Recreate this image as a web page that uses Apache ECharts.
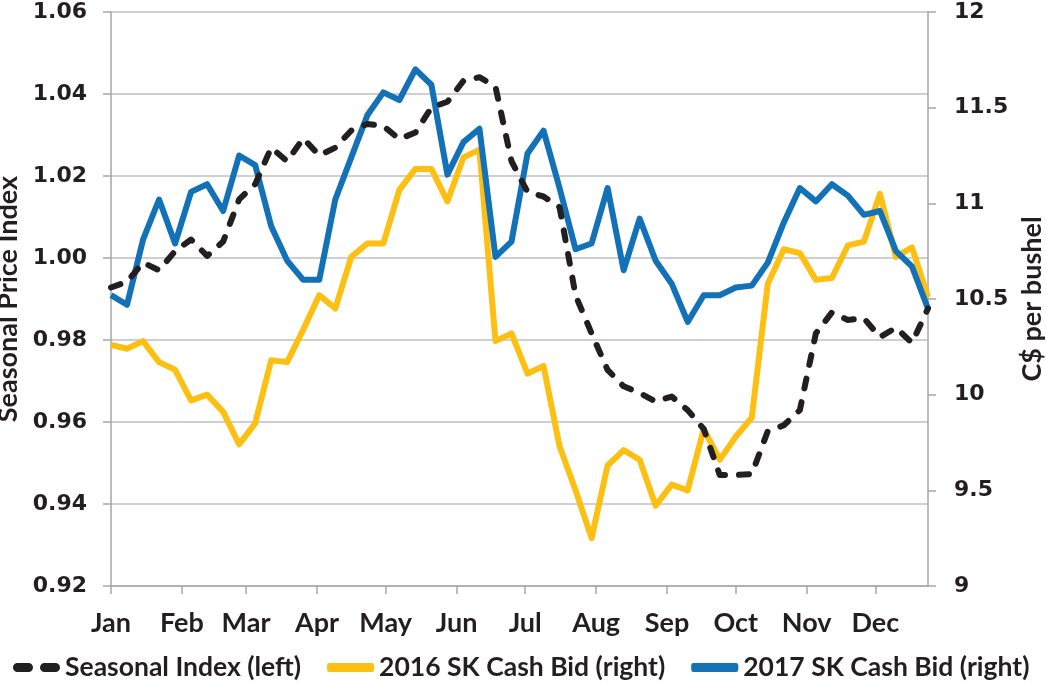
<!DOCTYPE html>
<html>
<head>
<meta charset="utf-8">
<script src="https://cdn.jsdelivr.net/npm/echarts@6/dist/echarts.min.js"></script>
<style>
html,body{margin:0;padding:0;background:#fff;}
#chart{width:1046px;height:694px;}
</style>
</head>
<body>
<div id="chart"></div>
<script>
// Weekly observations (week 1 .. week 52)
const weeks = Array.from({length: 52}, (_, i) => i + 1);
const monthNames = ['Jan','Feb','Mar','Apr','May','Jun','Jul','Aug','Sep','Oct','Nov','Dec'];
const monthStartDays = [0,31,59,90,120,151,181,212,243,273,304,334];
const leftTicks = [0.92,0.94,0.96,0.98,1.00,1.02,1.04,1.06];
const rightTicks = [9,9.5,10,10.5,11,11.5,12];

const seasonalIndex = [
  0.9928,0.9942,0.9989,0.9970,1.0017,1.0045,1.0005,1.0040,1.0143,1.0180,
  1.0269,1.0236,1.0292,1.0250,1.0269,1.0311,1.0327,1.0322,1.0290,1.0306,
  1.0367,1.0381,1.0432,1.0441,1.0418,1.0236,1.0161,1.0150,1.0124,0.9909,
  0.9816,0.9727,0.9687,0.9671,0.9650,0.9662,0.9629,0.9583,0.9471,0.9471,
  0.9473,0.9578,0.9592,0.9629,0.9816,0.9867,0.9849,0.9853,0.9807,0.9830,
  0.9793,0.9877
];
const bid2016 = [
  10.26,10.24,10.28,10.17,10.13,9.97,10.00,9.91,9.74,9.85,
  10.18,10.17,10.34,10.52,10.45,10.72,10.79,10.79,11.07,11.18,
  11.18,11.01,11.24,11.28,10.28,10.32,10.11,10.15,9.73,9.50,
  9.25,9.63,9.71,9.66,9.42,9.53,9.50,9.82,9.66,9.78,
  9.88,10.58,10.76,10.74,10.60,10.61,10.78,10.80,11.05,10.72,
  10.77,10.51
];
const bid2017 = [
  10.52,10.47,10.81,11.02,10.79,11.06,11.10,10.96,11.25,11.20,
  10.88,10.70,10.60,10.60,11.02,11.24,11.46,11.58,11.54,11.70,
  11.62,11.15,11.32,11.39,10.72,10.80,11.26,11.38,11.08,10.76,
  10.79,11.08,10.65,10.92,10.70,10.58,10.38,10.52,10.52,10.56,
  10.57,10.69,10.90,11.08,11.01,11.10,11.04,10.94,10.96,10.75,
  10.67,10.45
];

const dayOf = w => (w - 1) * 7;
const pair = arr => weeks.map((w, i) => [dayOf(w), arr[i]]);

const TXT = '#231f20';
const HUM = 'Lato, "Open Sans", sans-serif';
const NUM = '"DejaVu Sans", sans-serif';
const dashIcon = 'path://M4.5,0H15.5A4.5,4.5,0,0,1,15.5,9H4.5A4.5,4.5,0,0,1,4.5,0ZM31.5,0H42.5A4.5,4.5,0,0,1,42.5,9H31.5A4.5,4.5,0,0,1,31.5,0Z';

const chart = echarts.init(document.getElementById('chart'), null, {renderer: 'canvas'});
chart.setOption({
  animation: false,
  backgroundColor: '#fff',
  grid: {left: 111, right: 118, top: 12, bottom: 108, containLabel: false, outerBoundsMode: 'none'},
  legend: {
    data: [
      {name: 'Seasonal Index (left)', icon: dashIcon},
      {name: '2016 SK Cash Bid (right)', icon: 'roundRect'},
      {name: '2017 SK Cash Bid (right)', icon: 'roundRect'}
    ],
    left: 13, top: 654, width: 1100, padding: 0,
    itemWidth: 47, itemHeight: 9, itemGap: 26,
    textStyle: {fontFamily: HUM, fontWeight: 'bold', fontSize: 26.5, color: TXT}
  },
  xAxis: {
    type: 'value',
    min: 0, max: dayOf(weeks[weeks.length - 1]),
    splitLine: {show: false},
    axisLine: {show: true, lineStyle: {color: '#a6a6a6', width: 1.5}},
    axisTick: {show: true, length: 8, lineStyle: {color: '#a6a6a6', width: 1.5}, customValues: monthStartDays},
    axisLabel: {
      customValues: monthStartDays,
      formatter: v => monthNames[monthStartDays.indexOf(v)],
      margin: 24,
      fontFamily: HUM, fontWeight: 'bold', fontSize: 27, color: TXT
    }
  },
  yAxis: [
    {
      type: 'value', position: 'left',
      min: leftTicks[0], max: leftTicks[leftTicks.length - 1], interval: 0.02,
      name: 'Seasonal Price Index', nameLocation: 'middle', nameRotate: 90, nameGap: 86,
      nameTextStyle: {fontFamily: HUM, fontWeight: 'bold', fontSize: 27, color: TXT},
      axisLine: {show: true, lineStyle: {color: '#a6a6a6', width: 1.5}},
      axisTick: {show: true, length: 8, lineStyle: {color: '#a6a6a6', width: 1.5}},
      splitLine: {show: true, lineStyle: {color: '#bfbfbf', width: 1.5}},
      axisLabel: {formatter: v => v.toFixed(2), margin: 24, fontFamily: NUM, fontWeight: 'bold', fontSize: 22, color: TXT}
    },
    {
      type: 'value', position: 'right',
      min: rightTicks[0], max: rightTicks[rightTicks.length - 1], interval: 0.5,
      name: 'C$ per bushel', nameLocation: 'middle', nameRotate: 90, nameGap: 84,
      nameTextStyle: {fontFamily: HUM, fontWeight: 'bold', fontSize: 27, color: TXT},
      axisLine: {show: true, lineStyle: {color: '#a6a6a6', width: 1.5}},
      axisTick: {show: true, length: 8, lineStyle: {color: '#a6a6a6', width: 1.5}},
      splitLine: {show: false},
      axisLabel: {margin: 26, fontFamily: NUM, fontWeight: 'bold', fontSize: 22, color: TXT}
    }
  ],
  series: [
    {
      name: '2016 SK Cash Bid (right)', type: 'line', yAxisIndex: 1,
      data: pair(bid2016), symbol: 'none', z: 2,
      itemStyle: {color: '#fdbf12'},
      lineStyle: {color: '#fdbf12', width: 6, join: 'round'}
    },
    {
      name: '2017 SK Cash Bid (right)', type: 'line', yAxisIndex: 1,
      data: pair(bid2017), symbol: 'none', z: 3,
      itemStyle: {color: '#1371b8'},
      lineStyle: {color: '#1371b8', width: 6, join: 'round'}
    },
    {
      name: 'Seasonal Index (left)', type: 'line', yAxisIndex: 0,
      data: pair(seasonalIndex), symbol: 'none', z: 4,
      itemStyle: {color: '#231f20'},
      lineStyle: {color: '#231f20', width: 6, type: [10, 14], cap: 'round', join: 'round'}
    }
  ]
});
</script>
</body>
</html>
